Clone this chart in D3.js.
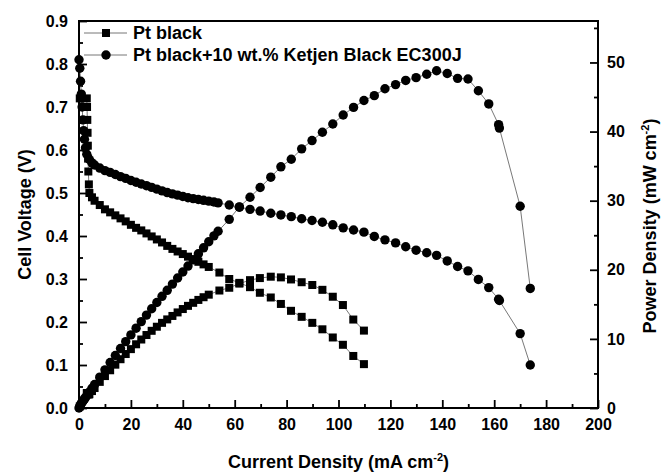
<!DOCTYPE html>
<html>
<head>
<meta charset="utf-8">
<script src="https://cdn.jsdelivr.net/npm/d3@7"></script>
<style>
body { margin: 0; background: #fff; }
svg { display: block; font-family: "Liberation Sans", Arial, sans-serif; font-weight: bold; }
</style>
</head>
<body>
<svg width="670" height="472"></svg>
<script>
// Series names (legend)
const seriesNames = ["Pt black", "Pt black+10 wt.% Ketjen Black EC300J"];

// Pt black: current density (mA cm-2), cell voltage (V), power density (mW cm-2)
const ptCurrent = [0.3, 3.0, 3.1, 3.2, 3.3, 3.4, 3.5, 3.6, 3.8, 4.0, 5, 6, 8, 10, 12, 14, 16, 18, 20,
    22, 24, 26, 28, 30, 32, 34, 36, 38, 40, 42, 44, 46, 48, 50, 54.1, 57.9, 61.8, 65.9, 69.7,
    73.9, 77.8, 81.7, 85.8, 89.9, 93.8, 97.8, 101.7, 105.7, 109.8];
const ptVoltage = [0.72, 0.72, 0.70, 0.67, 0.64, 0.61, 0.58, 0.55, 0.52, 0.50, 0.49, 0.482, 0.472, 0.462,
    0.455, 0.448, 0.441, 0.434, 0.426, 0.419, 0.413, 0.406, 0.399, 0.392, 0.385, 0.377, 0.370, 0.364,
    0.358, 0.352, 0.346, 0.340, 0.334, 0.328, 0.315, 0.300, 0.291, 0.281, 0.268, 0.257, 0.242, 0.226,
    0.212, 0.198, 0.183, 0.164, 0.147, 0.121, 0.102];
const ptPower = [0.22, 2.16, 2.17, 2.14, 2.11, 2.07, 2.03, 1.98, 1.98, 2.00, 2.45, 2.89, 3.78, 4.62,
    5.46, 6.27, 7.06, 7.81, 8.52, 9.22, 9.91, 10.56, 11.17, 11.76, 12.32, 12.82, 13.32, 13.83, 14.32,
    14.78, 15.22, 15.64, 16.03, 16.40, 17.0, 17.4, 18.0, 18.5, 18.8, 19.0, 18.9, 18.6, 18.2, 17.8,
    17.1, 16.1, 14.9, 12.8, 11.2];

// Pt black + 10 wt.% Ketjen Black EC300J
const kbCurrent = [0, 0.3, 0.6, 0.9, 1.2, 1.5, 1.8, 2.1, 2.5, 3, 4, 5, 6, 8, 10, 12, 14, 16, 18, 20,
    22, 24, 26, 28, 30, 32, 34, 36, 38, 40, 42, 44, 46, 48, 50, 52, 53.6, 57.9, 61.8, 65.9, 69.8,
    73.9, 77.8, 81.8, 85.8, 89.8, 93.8, 97.8, 101.8, 105.8, 109.8, 113.8, 117.9, 122.0, 125.9, 129.9,
    134.0, 137.8, 141.9, 145.9, 149.9, 153.9, 157.9, 161.7, 162.0, 170.0, 173.9];
const kbVoltage = [0.81, 0.79, 0.76, 0.73, 0.70, 0.67, 0.645, 0.625, 0.605, 0.59, 0.578, 0.57, 0.565,
    0.558, 0.552, 0.548, 0.543, 0.538, 0.534, 0.529, 0.525, 0.521, 0.517, 0.513, 0.509, 0.505, 0.501,
    0.498, 0.495, 0.492, 0.489, 0.487, 0.485, 0.483, 0.481, 0.479, 0.477, 0.472, 0.467, 0.462, 0.458,
    0.453, 0.449, 0.445, 0.440, 0.436, 0.432, 0.426, 0.419, 0.414, 0.409, 0.399, 0.391, 0.384, 0.375,
    0.367, 0.361, 0.355, 0.342, 0.329, 0.319, 0.299, 0.280, 0.253, 0.250, 0.173, 0.100];
const kbPower = [0, 0.24, 0.46, 0.66, 0.84, 1.0, 1.16, 1.31, 1.51, 1.77, 2.31, 2.85, 3.39, 4.46, 5.52,
    6.58, 7.60, 8.61, 9.61, 10.58, 11.55, 12.50, 13.44, 14.36, 15.27, 16.16, 17.03, 17.93, 18.81, 19.68,
    20.54, 21.43, 22.31, 23.18, 24.05, 24.91, 25.57, 27.3, 29.1, 30.5, 31.9, 33.4, 34.9, 36.0, 37.5,
    38.7, 39.9, 41.1, 42.4, 43.5, 44.5, 45.2, 46.2, 46.8, 47.4, 47.8, 48.3, 48.8, 48.4, 47.7, 47.6,
    45.9, 44.0, 41.0, 40.5, 29.2, 17.3];

// Tick values
const xTicks = d3.range(0, 201, 20);
const xMinor = d3.range(10, 200, 20);
const vTicks = d3.range(0, 0.91, 0.1);
const vMinor = d3.range(0.05, 0.9, 0.1);
const pTicks = [0, 10, 20, 30, 40, 50];
const pMinor = [5, 15, 25, 35, 45, 55];

const svg = d3.select("svg"),
      margin = {top: 21, right: 72, bottom: 64, left: 79},
      width = 670 - margin.left - margin.right,
      height = 472 - margin.top - margin.bottom;

const x = d3.scaleLinear().domain([0, 200]).range([margin.left, margin.left + width]);
const yV = d3.scaleLinear().domain([0, 0.9]).range([margin.top + height, margin.top]);
const yP = d3.scaleLinear().domain([0, 56]).range([margin.top + height, margin.top]);

const bottom = margin.top + height,
      right = margin.left + width;

// axes, ticks pointing inward
function styleAxis(g) {
    g.select(".domain").remove();
    g.selectAll(".tick line").attr("stroke", "#000").attr("stroke-width", 1.8);
    g.selectAll(".tick text").attr("font-size", 16).attr("fill", "#000");
}

svg.append("g")
    .attr("transform", `translate(0,${bottom})`)
    .call(d3.axisBottom(x).tickValues(xTicks).tickSize(-8).tickPadding(11).tickFormat(d3.format("d")))
    .call(styleAxis);
svg.append("g")
    .attr("transform", `translate(0,${bottom})`)
    .call(d3.axisBottom(x).tickValues(xMinor).tickSize(-4).tickFormat(""))
    .call(styleAxis);

svg.append("g")
    .attr("transform", `translate(${margin.left},0)`)
    .call(d3.axisLeft(yV).tickValues(vTicks).tickSize(-8).tickPadding(11).tickFormat(d3.format(".1f")))
    .call(styleAxis);
svg.append("g")
    .attr("transform", `translate(${margin.left},0)`)
    .call(d3.axisLeft(yV).tickValues(vMinor).tickSize(-4).tickFormat(""))
    .call(styleAxis);

svg.append("g")
    .attr("transform", `translate(${right},0)`)
    .call(d3.axisRight(yP).tickValues(pTicks).tickSize(-8).tickPadding(9).tickFormat(d3.format("d")))
    .call(styleAxis);
svg.append("g")
    .attr("transform", `translate(${right},0)`)
    .call(d3.axisRight(yP).tickValues(pMinor).tickSize(-4).tickFormat(""))
    .call(styleAxis);

// frame
svg.append("rect")
    .attr("x", margin.left).attr("y", margin.top)
    .attr("width", width).attr("height", height)
    .attr("fill", "none").attr("stroke", "#000").attr("stroke-width", 2);

// axis titles
svg.append("text")
    .attr("x", margin.left + width / 2).attr("y", 468)
    .attr("text-anchor", "middle").attr("font-size", 18)
    .html('Current Density (mA cm<tspan dy="-7" font-size="11">-2</tspan><tspan dy="7">)</tspan>');

svg.append("text")
    .attr("transform", `translate(31,${margin.top + height / 2}) rotate(-90)`)
    .attr("text-anchor", "middle").attr("font-size", 18)
    .text("Cell Voltage (V)");

svg.append("text")
    .attr("transform", `translate(656,226) rotate(-90)`)
    .attr("text-anchor", "middle").attr("font-size", 18)
    .html('Power Density (mW cm<tspan dy="-7" font-size="11">-2</tspan><tspan dy="7">)</tspan>');

// build point lists
const zip = (a, b) => a.map((d, i) => [d, b[i]]);
const curves = [
    {pts: zip(ptCurrent, ptVoltage), y: yV, shape: "square"},
    {pts: zip(ptCurrent, ptPower), y: yP, shape: "square"},
    {pts: zip(kbCurrent, kbVoltage), y: yV, shape: "circle"},
    {pts: zip(kbCurrent, kbPower), y: yP, shape: "circle"}
];

const plot = svg.append("g");

curves.forEach(c => {
    const line = d3.line().x(d => x(d[0])).y(d => c.y(d[1]));
    plot.append("path")
        .datum(c.pts)
        .attr("d", line)
        .attr("fill", "none")
        .attr("stroke", "#555")
        .attr("stroke-width", 0.8);
});

curves.forEach(c => {
    if (c.shape === "square") {
        plot.selectAll(null).data(c.pts).enter().append("rect")
            .attr("x", d => x(d[0]) - 4)
            .attr("y", d => c.y(d[1]) - 4)
            .attr("width", 8).attr("height", 8)
            .attr("fill", "#000");
    } else {
        plot.selectAll(null).data(c.pts).enter().append("circle")
            .attr("cx", d => x(d[0]))
            .attr("cy", d => c.y(d[1]))
            .attr("r", 4.7)
            .attr("fill", "#000");
    }
});

// legend
const legend = svg.append("g");
seriesNames.forEach((name, i) => {
    const ly = 33 + i * 22;
    legend.append("line")
        .attr("x1", 84).attr("x2", 127).attr("y1", ly).attr("y2", ly)
        .attr("stroke", "#777").attr("stroke-width", 1);
    if (i === 0) {
        legend.append("rect").attr("x", 102).attr("y", ly - 4).attr("width", 8).attr("height", 8).attr("fill", "#000");
    } else {
        legend.append("circle").attr("cx", 106).attr("cy", ly).attr("r", 4.7).attr("fill", "#000");
    }
    legend.append("text")
        .attr("x", 133).attr("y", ly + 6)
        .attr("font-size", 18)
        .text(name);
});
</script>
</body>
</html>
